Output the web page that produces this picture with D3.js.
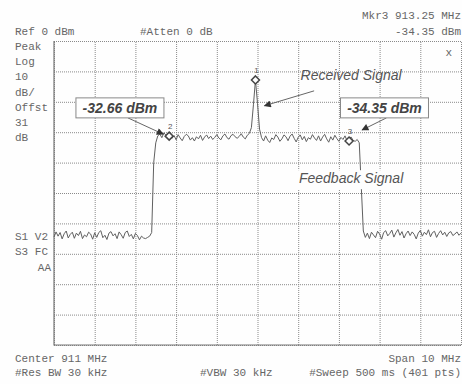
<!DOCTYPE html>
<html>
<head>
<meta charset="utf-8">
<script src="https://cdn.jsdelivr.net/npm/d3@7"></script>
<style>
  body { margin: 0; background: #fff; }
  .mono { font-family: "Liberation Mono", "DejaVu Sans Mono", monospace; font-size: 11px; fill: #666; }
  .callout { font-family: "Liberation Sans", Arial, sans-serif; font-style: italic; font-size: 14px; fill: #555; }
  .callout.bold { font-weight: bold; fill: #444; }
</style>
</head>
<body>
<div id="screen"></div>
<script>
/*============================
==DATA =======================*/
// sweep: 906 - 916 MHz, one point every 0.05 MHz (201 pts)
var sweepStart = 906;
var sweepStep = 0.05;

// trace levels in dBm
var traceLevels = [
  // left noise floor
  -64.5,-62.8,-64.2,-63.0,-65.1,-63.4,-62.5,-64.8,-63.6,-62.9,
  -64.9,-63.2,-64.0,-62.6,-65.0,-63.8,-64.4,-62.9,-63.5,-65.2,
  -63.1,-64.6,-63.0,-62.4,-64.7,-63.9,-65.3,-63.2,-62.7,-64.1,
  -63.4,-65.0,-62.8,-63.7,-64.9,-63.0,-62.5,-64.3,-63.6,-65.1,
  -63.3,-64.0,-65.4,-64.2,-64.8,-65.0,-64.6,-64.2,
  // rising edge
  -63.0,-40.0,-33.5,-31.2,
  // feedback plateau (left part)
  -30.6,-31.8,-30.2,-31.0,-31.6,-30.4,-32.0,-31.1,-32.5,-30.8,
  -31.9,-32.8,-31.4,-30.7,-31.2,-32.6,-31.8,-32.9,-31.5,-32.2,
  -31.0,-32.7,-31.6,-30.9,-32.1,-31.3,-32.4,-31.7,-30.8,-31.9,
  -32.5,-31.2,-30.6,-31.8,-32.3,-31.1,-30.7,-31.5,-32.0,-31.4,
  -30.5,-31.6,-32.2,-31.0,-30.4,
  // received signal
  -28.5,-21.0,-12.8,-20.5,-29.0,
  // feedback plateau (right part)
  -31.8,-32.9,-31.2,-32.6,-33.4,-31.9,-32.4,-30.8,-31.6,-33.0,
  -32.2,-30.9,-31.5,-32.8,-31.3,-30.6,-32.0,-33.2,-31.7,-30.9,
  -32.5,-31.4,-33.1,-31.8,-32.3,-30.8,-31.9,-32.7,-31.2,-32.9,
  -31.6,-30.7,-32.2,-33.3,-31.5,-32.6,-31.0,-32.1,-33.0,-31.7,
  -32.4,-31.2,-32.8,-32.0,-31.6,-32.7,-33.0,-32.4,
  // falling edge
  -33.5,-48.0,-62.5,
  // right noise floor
  -64.6,-63.2,-65.0,-62.9,-63.8,-64.7,-62.6,-63.5,-65.2,-63.0,
  -62.4,-64.1,-63.3,-62.2,-64.5,-63.1,-62.0,-63.9,-62.7,-64.8,
  -63.4,-62.5,-64.0,-62.8,-63.6,-65.1,-63.2,-62.3,-64.2,-62.9,
  -63.7,-62.1,-64.4,-63.0,-62.6,-64.6,-63.3,-62.4,-63.8,-62.9,
  -64.3,-63.1,-62.7,-64.0,-63.5,-62.8,-63.9,-63.2
];

// grid divisions
var gridFreqs = [906, 907, 908, 909, 910, 911, 912, 913, 914, 915, 916];
var gridLevels = [0, -10, -20, -30, -40, -50, -60, -70, -80, -90, -100];

// markers (freq MHz, level on screen dBm)
var markerIds = ["1", "2", "3"];
var markerFreqs = [910.95, 908.83, 913.25];
var markerLevels = [-12.8, -31.3, -32.9];

// screen annotations
var headerLeft = ["Ref 0 dBm"];
var sideLabels = ["Peak", "Log", "10", "dB/", "Offst", "31", "dB"];
var sideLabels2 = ["S1 V2", "S3 FC", "AA"];

/*============================
==SVG ========================*/
var svgWidth = 462;
var svgHeight = 384;

var plot = { left: 54, right: 461, top: 41, bottom: 345 };

var svg = d3.select("#screen")
  .append("svg")
  .attr("width", svgWidth)
  .attr("height", svgHeight);

svg.append("rect")
  .attr("width", svgWidth)
  .attr("height", svgHeight)
  .attr("fill", "#fefefe");

/*============================
==SCALES =====================*/
var xScale = d3.scaleLinear()
  .domain([906, 916])
  .range([plot.left, plot.right]);

var yScale = d3.scaleLinear()
  .domain([-100, 0])
  .range([plot.bottom, plot.top]);

var plotH = plot.bottom - plot.top;
var plotW = plot.right - plot.left;

// vertical grid
var xGrid = svg.append("g")
  .attr("transform", `translate(0, ${plot.bottom})`)
  .call(d3.axisBottom(xScale).tickValues(gridFreqs).tickSize(-plotH).tickFormat(""));

// horizontal grid
var yGrid = svg.append("g")
  .attr("transform", `translate(${plot.left}, 0)`)
  .call(d3.axisLeft(yScale).tickValues(gridLevels).tickSize(-plotW).tickFormat(""));

svg.selectAll(".domain").remove();
svg.selectAll(".tick line")
  .attr("stroke", "#8a8a8a")
  .attr("stroke-width", 1)
  .attr("stroke-dasharray", "1,1");

// screen border (left/bottom are solid on the scan)
svg.append("path")
  .attr("d", `M${plot.left},${plot.top}V${plot.bottom}H${plot.right}`)
  .attr("fill", "none")
  .attr("stroke", "#777")
  .attr("stroke-width", 1.2);

/*============================
==TRACE ======================*/
var trace = traceLevels.map((v, i) => ({ f: sweepStart + i * sweepStep, v: v }));

var line = d3.line()
  .x(d => xScale(d.f))
  .y(d => yScale(d.v));

svg.append("path")
  .datum(trace)
  .attr("d", line)
  .attr("fill", "none")
  .attr("stroke", "#606060")
  .attr("stroke-width", 1)
  .attr("stroke-linejoin", "round");

/*============================
==MARKERS ====================*/
markerIds.forEach((id, i) => {
  var mx = xScale(markerFreqs[i]);
  var my = yScale(markerLevels[i]);
  svg.append("path")
    .attr("d", `M${mx},${my - 4}L${mx + 4},${my}L${mx},${my + 4}L${mx - 4},${my}Z`)
    .attr("fill", "#fff")
    .attr("stroke", "#444")
    .attr("stroke-width", 1.5);
  svg.append("text")
    .attr("x", mx + 1)
    .attr("y", my - 7)
    .attr("text-anchor", "middle")
    .attr("font-family", "Liberation Sans, Arial, sans-serif")
    .attr("font-size", 8)
    .attr("fill", "#555")
    .text(id);
});

// small "x" on the screen top right
svg.append("text")
  .attr("class", "mono")
  .attr("x", xScale(915.7))
  .attr("y", yScale(-4.8))
  .attr("text-anchor", "middle")
  .text("x");

/*============================
==CALLOUTS ===================*/
svg.append("defs").append("marker")
  .attr("id", "head")
  .attr("viewBox", "0 0 10 10")
  .attr("refX", 9)
  .attr("refY", 5)
  .attr("markerWidth", 9)
  .attr("markerHeight", 7)
  .attr("orient", "auto")
  .attr("markerUnits", "userSpaceOnUse")
  .append("path")
  .attr("d", "M0,0L10,5L0,10Z")
  .attr("fill", "#333");

function arrow(x1, y1, x2, y2) {
  svg.append("line")
    .attr("x1", x1).attr("y1", y1)
    .attr("x2", x2).attr("y2", y2)
    .attr("stroke", "#666")
    .attr("stroke-width", 1)
    .attr("marker-end", "url(#head)");
}

function valueBox(cx, cy, label) {
  svg.append("rect")
    .attr("x", cx - 44)
    .attr("y", cy - 10)
    .attr("width", 88)
    .attr("height", 20)
    .attr("fill", "#fff")
    .attr("stroke", "#888")
    .attr("stroke-width", 1);
  svg.append("text")
    .attr("class", "callout bold")
    .attr("x", cx)
    .attr("y", cy + 5)
    .attr("text-anchor", "middle")
    .text(label);
}

// marker 2 value
var m2x = xScale(markerFreqs[1]), m2y = yScale(markerLevels[1]);
var b2x = xScale(907.62), b2y = yScale(-22.0);
arrow(b2x + 8, b2y + 10, m2x - 6, m2y - 2);
valueBox(b2x, b2y, "-32.66 dBm");

// marker 3 value
var m3x = xScale(markerFreqs[2]), m3y = yScale(markerLevels[2]);
var b3x = xScale(914.12), b3y = yScale(-22.0);
arrow(b3x + 2, b3y + 10, m3x + 13, m3y - 11);
valueBox(b3x, b3y, "-34.35 dBm");

// received signal
svg.append("text")
  .attr("class", "callout")
  .attr("x", xScale(913.3))
  .attr("y", yScale(-12.9))
  .attr("text-anchor", "middle")
  .text("Received Signal");
arrow(xScale(913.3) - 37, yScale(-16.4), xScale(markerFreqs[0]) + 9, yScale(-21.3));

// feedback signal (white patch hides the trace edge)
svg.append("rect")
  .attr("x", xScale(913.3) - 55)
  .attr("y", yScale(-42.5))
  .attr("width", 110)
  .attr("height", 19)
  .attr("fill", "#fefefe");
svg.append("text")
  .attr("class", "callout")
  .attr("x", xScale(913.3))
  .attr("y", yScale(-46.7))
  .attr("text-anchor", "middle")
  .text("Feedback Signal");

/*============================
==SCREEN TEXT ================*/
svg.append("text").attr("class", "mono").attr("x", 15).attr("y", 35).text(headerLeft[0]);
svg.append("text").attr("class", "mono").attr("x", 140).attr("y", 35).text("#Atten 0 dB");
svg.append("text").attr("class", "mono").attr("x", 461).attr("y", 19).attr("text-anchor", "end").text("Mkr3  913.25 MHz");
svg.append("text").attr("class", "mono").attr("x", 461).attr("y", 35).attr("text-anchor", "end").text("-34.35 dBm");

sideLabels.forEach((t, i) => {
  svg.append("text").attr("class", "mono").attr("x", 15).attr("y", 50 + i * 15.2).text(t);
});

svg.append("text").attr("class", "mono").attr("x", 15).attr("y", 240).text(sideLabels2[0]);
svg.append("text").attr("class", "mono").attr("x", 15).attr("y", 255).text(sideLabels2[1]);
svg.append("text").attr("class", "mono").attr("x", 51).attr("y", 271).attr("text-anchor", "end").text(sideLabels2[2]);

svg.append("text").attr("class", "mono").attr("x", 15).attr("y", 362).text("Center 911 MHz");
svg.append("text").attr("class", "mono").attr("x", 461).attr("y", 362).attr("text-anchor", "end").text("Span 10 MHz");
svg.append("text").attr("class", "mono").attr("x", 15).attr("y", 376).text("#Res BW 30 kHz");
svg.append("text").attr("class", "mono").attr("x", 200).attr("y", 376).text("#VBW 30 kHz");
svg.append("text").attr("class", "mono").attr("x", 461).attr("y", 376).attr("text-anchor", "end").text("#Sweep 500 ms (401 pts)");
</script>
</body>
</html>
